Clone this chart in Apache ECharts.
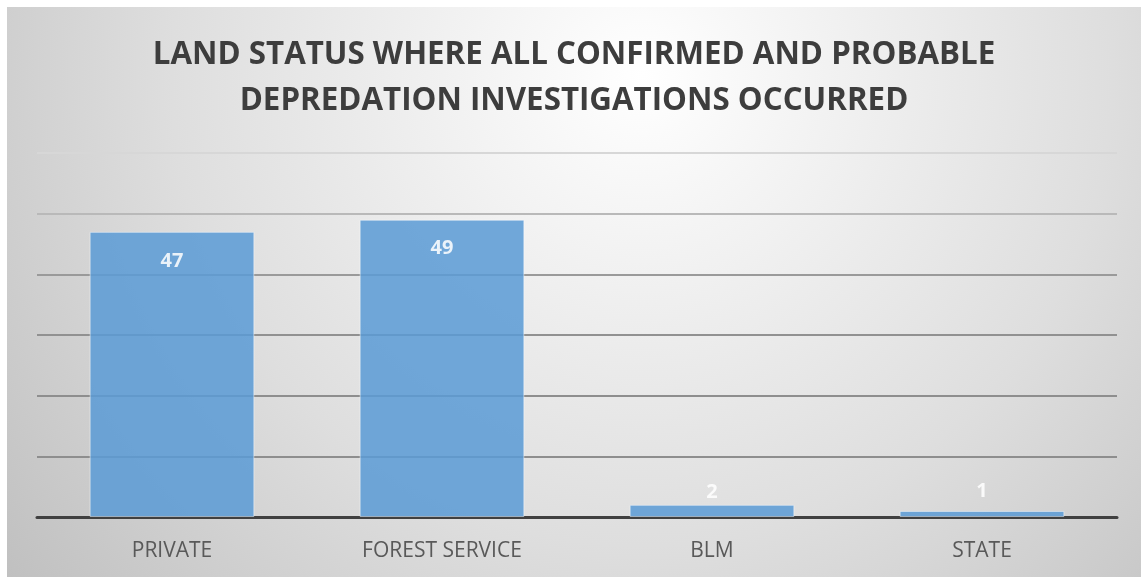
<!DOCTYPE html>
<html>
<head>
<meta charset="utf-8">
<script src="https://cdn.jsdelivr.net/npm/echarts@6/dist/echarts.min.js"></script>
<style>
    html, body { margin: 0; padding: 0; background: #fff; }
    #chart {
        position: absolute; left: 7px; top: 7px;
        width: 1134px; height: 570px;
        box-shadow: inset 1px 1px 0 #bdbdbd;
    }
</style>
</head>
<body>
<div id="chart"></div>
<script>
const titleLines = ['LAND STATUS WHERE ALL CONFIRMED AND PROBABLE', 'DEPREDATION INVESTIGATIONS OCCURRED']
const categories = ['PRIVATE', 'FOREST SERVICE', 'BLM', 'STATE']
const values = [47, 49, 2, 1]

// small bars get their label above the bar, big ones inside
const labelPos = (v) => v > 10
    ? { position: 'insideTop', distance: 19 }
    : { position: 'top', distance: v === 1 ? 10 : 3 }

var myChart = echarts.init(document.getElementById('chart'))
var option = {
    backgroundColor: {
        type: 'radial', x: 0.56, y: 0.12, r: 1.5,
        colorStops: [
            { offset: 0, color: '#ffffff' },
            { offset: 0.55, color: '#dedede' },
            { offset: 1, color: '#bcbcbc' }
        ]
    },
    title: {
        text: titleLines.join('\n'),
        left: 'center',
        top: 20,
        textStyle: {
            fontFamily: 'Open Sans',
            fontWeight: 'bold',
            fontSize: 31.3,
            lineHeight: 46,
            color: '#3d3d3d'
        }
    },
    grid: { left: 30, right: 24, top: 146, bottom: 60 },
    xAxis: {
        type: 'category',
        data: categories,
        axisTick: { show: false },
        axisLine: { lineStyle: { color: '#404040', width: 3 } },
        axisLabel: {
            margin: 24,
            fontFamily: 'Open Sans',
            fontSize: 21,
            color: '#595959'
        }
    },
    yAxis: {
        type: 'value',
        min: 0, max: 60, interval: 10,
        axisLabel: { show: false },
        axisLine: { show: false },
        axisTick: { show: false },
        splitLine: {
            lineStyle: {
                width: 2,
                color: ['#8c8c8c', '#8e8e8e', '#8e8e8e', '#919191', '#9a9a9a', '#b9b9b9', '#d7d7d7']
            }
        }
    },
    series: [{
        type: 'bar',
        barWidth: '61%',
        itemStyle: {
            color: '#5b9bd5',
            opacity: 0.86,
            borderColor: 'rgba(255,255,255,0.55)',
            borderWidth: 1
        },
        label: {
            show: true,
            color: '#ffffff',
            fontFamily: 'Open Sans',
            fontWeight: 'bold',
            fontSize: 20
        },
        data: values.map(v => ({ value: v, label: labelPos(v) }))
    }]
}
myChart.setOption(option)
</script>
</body>
</html>
